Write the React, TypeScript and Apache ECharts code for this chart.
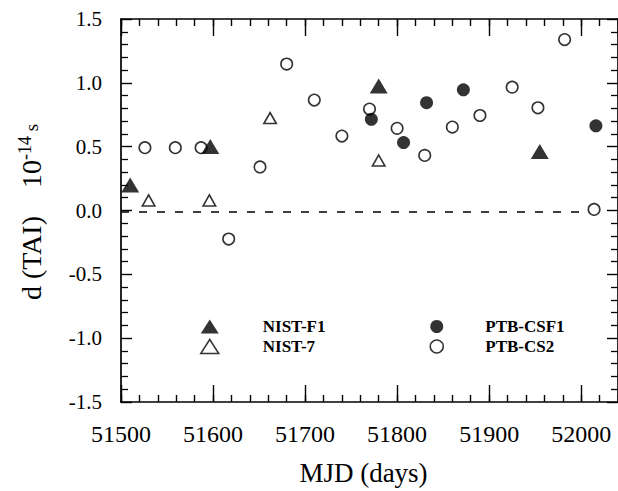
import React, { useEffect, useRef } from "react";
import * as echarts from "echarts";

// ---- data (MJD, d(TAI) in units of 1e-14) ----
const nistF1: [number, number][] = [[51510, 0.21], [51597, 0.51], [51780, 0.98], [51955, 0.47]];
const nist7: [number, number][] = [[51530, 0.09], [51596, 0.09], [51662, 0.73], [51780, 0.4]];
const ptbCsf1: [number, number][] = [[51772, 0.72], [51807, 0.54], [51832, 0.85], [51872, 0.95], [52016, 0.67]];
const ptbCs2: [number, number][] = [
  [51526, 0.5], [51559, 0.5], [51587, 0.5], [51617, -0.21], [51651, 0.35], [51680, 1.15],
  [51710, 0.87], [51740, 0.59], [51770, 0.8], [51800, 0.65], [51830, 0.44], [51860, 0.66],
  [51890, 0.75], [51925, 0.97], [51953, 0.81], [51982, 1.34], [52014, 0.02],
];
const zeroLine: [number, number][] = [[51500, 0], [52010, 0]];
const xMin = 51500, xMax = 52040, xMajor = 100, xMinor = 20;
const yMin = -1.5, yMax = 1.5, yMajor = 0.5;

const FONT = "Liberation Serif";
const black = "#000";
const GRID = { left: 121, right: 0, top: 19, bottom: 86 };

function axesOption(): any {
  const xBase = (position: string, major: boolean, labels: boolean) => ({
    type: "value", position, min: xMin, max: xMax, interval: major ? xMajor : xMinor,
    axisLine: { show: major, onZero: false, lineStyle: { color: black, width: 1.7 } },
    axisTick: { show: true, inside: true, length: major ? 17 : 7, lineStyle: { color: black, width: 1.4 } },
    axisLabel: labels
      ? { show: true, margin: 20, fontFamily: FONT, fontSize: 24, color: black, showMaxLabel: false, formatter: (v: number) => String(v) }
      : { show: false },
    splitLine: { show: false },
  });
  const yBase = (position: string, labels: boolean) => ({
    type: "value", position, min: yMin, max: yMax, interval: yMajor,
    axisLine: { show: true, onZero: false, lineStyle: { color: black, width: 1.7 } },
    axisTick: { show: true, inside: true, length: 11, lineStyle: { color: black, width: 1.4 } },
    minorTick: { show: true, splitNumber: 5, length: 7, lineStyle: { color: black, width: 1.3 } },
    axisLabel: labels
      ? { show: true, margin: 19, fontFamily: FONT, fontSize: 21, color: black, formatter: (v: number) => v.toFixed(1) }
      : { show: false },
    splitLine: { show: false },
  });
  return {
    animation: false,
    backgroundColor: "#fff",
    grid: GRID,
    xAxis: [
      { ...xBase("bottom", true, true), name: "MJD (days)", nameLocation: "middle", nameGap: 57,
        nameTextStyle: { fontFamily: FONT, fontSize: 27, color: black, padding: [0, 12, 0, 0] } },
      xBase("bottom", false, false), xBase("top", true, false), xBase("top", false, false),
    ],
    yAxis: [yBase("left", true), yBase("right", false)],
    series: [{ type: "scatter", data: [[xMin - 100, 0]], silent: true, symbolSize: 0 }],
  };
}

function marksOption(): any {
  const legendText = (pad: number) => ({ fontFamily: FONT, fontSize: 17, fontWeight: "bold", color: black, lineHeight: 17, padding: [0, 0, 0, pad] });
  return {
    animation: false,
    grid: GRID,
    xAxis: { type: "value", min: xMin, max: xMax, show: false },
    yAxis: {
      type: "value", position: "left", min: yMin, max: yMax,
      axisLine: { show: false }, axisTick: { show: false }, axisLabel: { show: false }, splitLine: { show: false },
      name: "{a|d (TAI)    10}{b|-14}{c| s}",
      nameLocation: "middle",
      nameGap: 75,
      nameTextStyle: {
        fontFamily: FONT, fontSize: 28, color: black,
        rich: {
          a: { fontFamily: FONT, fontSize: 28, lineHeight: 30, color: black },
          b: { fontFamily: FONT, fontSize: 18, lineHeight: 18, verticalAlign: "top", color: black },
          c: { fontFamily: FONT, fontSize: 19, lineHeight: 19, verticalAlign: "middle", color: black },
        },
      },
    },
    legend: [
      { data: ["NIST-F1", "NIST-7"], orient: "vertical", left: 200, top: 318, padding: 0, itemWidth: 18, itemHeight: 14,
        itemGap: 3, selectedMode: false, itemStyle: { borderWidth: 1.5 }, textStyle: legendText(39) },
      { data: ["PTB-CSF1", "PTB-CS2"], orient: "vertical", left: 429.5, top: 318, padding: 0, itemWidth: 13, itemHeight: 13,
        itemGap: 3, selectedMode: false, itemStyle: { borderWidth: 1.5 }, textStyle: legendText(37) },
    ],
    series: [
      { name: "zero", type: "line", data: zeroLine, symbol: "none", silent: true, lineStyle: { color: black, width: 1.3, type: [8, 10] }, z: 1 },
      { name: "NIST-F1", type: "scatter", data: nistF1, symbol: "triangle", symbolSize: [18, 15], itemStyle: { color: black }, z: 3 },
      { name: "NIST-7", type: "scatter", data: nist7, symbol: "triangle", symbolSize: [12.5, 11], itemStyle: { color: "#fff", borderColor: black, borderWidth: 1.6 }, z: 3 },
      { name: "PTB-CSF1", type: "scatter", data: ptbCsf1, symbol: "circle", symbolSize: 13, itemStyle: { color: black }, z: 3 },
      { name: "PTB-CS2", type: "scatter", data: ptbCs2, symbol: "circle", symbolSize: 11.5, itemStyle: { color: "#fff", borderColor: black, borderWidth: 1.6 }, z: 2 },
    ],
  };
}

export default function App() {
  const axesRef = useRef<HTMLDivElement>(null);
  const marksRef = useRef<HTMLDivElement>(null);
  useEffect(() => {
    document.body.style.margin = "0";
    const axesChart = echarts.init(axesRef.current!, null, { renderer: "svg" });
    axesChart.setOption(axesOption());
    const marksChart = echarts.init(marksRef.current!, null, { renderer: "svg" });
    marksChart.setOption(marksOption());
    return () => {
      marksChart.dispose();
      axesChart.dispose();
    };
  }, []);
  return (
    <div style={{ position: "relative", width: 618, height: 491 }}>
      <div ref={axesRef} style={{ position: "absolute", left: 0, top: 0, width: 618, height: 491 }} />
      <div ref={marksRef} style={{ position: "absolute", left: 0, top: 0, width: 618, height: 491 }} />
    </div>
  );
}
